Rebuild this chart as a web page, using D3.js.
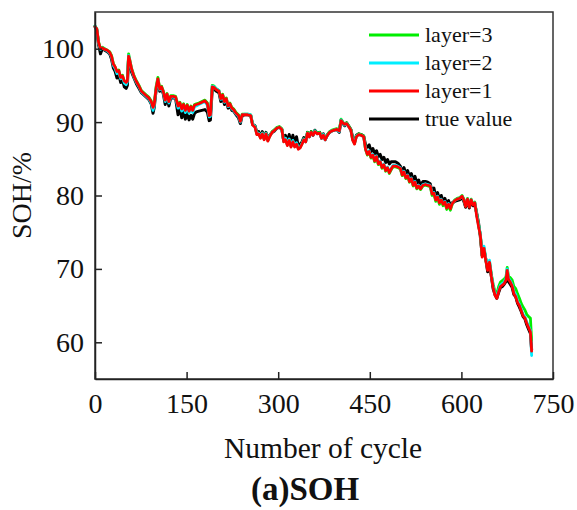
<!DOCTYPE html>
<html>
<head>
<meta charset="utf-8">
<script src="https://cdn.jsdelivr.net/npm/d3@7/dist/d3.min.js"></script>
<style>
  html, body { margin: 0; padding: 0; background: #fff; }
  svg { display: block; }
  text { font-family: "Liberation Serif", "DejaVu Serif", serif; fill: #111; }
</style>
</head>
<body>
<svg id="chart" width="577" height="510"></svg>
<script>
// ---------------- DATA ----------------
const cycles = [
  0,3,6,9,12,16,20,24,27,30,
  33,36,39,42,45,48,51,53,55,57,
  60,64,68,72,76,80,84,88,92,95,
  97,100,103,106,109,112,115,118,121,124,
  128,132,136,139,142,145,148,151,154,157,
  160,163,166,170,175,180,184,187,189,192,
  195,199,203,206,209,212,215,218,221,224,
  227,231,235,238,241,245,250,255,258,262,
  265,268,271,274,277,280,283,286,290,294,
  298,302,306,309,312,315,318,321,324,327,
  330,333,336,339,342,345,348,351,354,357,
  360,364,368,371,374,377,380,384,388,392,
  396,400,403,406,409,412,416,419,422,425,
  428,432,436,440,443,446,449,452,455,458,
  461,464,467,470,473,476,479,482,485,488,
  492,496,500,503,506,509,512,515,518,521,
  524,527,530,533,537,541,545,549,552,555,
  558,561,564,567,570,573,576,579,582,585,
  589,593,597,601,604,607,610,613,616,619,
  622,625,628,631,634,637,640,643,646,649,
  652,655,658,661,664,667,670,673,675,677,
  680,683,686,689,692,695,698,701,704,707,
  710,713,715
];

const trueValue = [
  103.0,102.5,100.5,99.3,100.0,99.8,99.6,99.3,98.6,97.4,
  96.9,96.0,96.5,95.4,95.8,94.8,94.6,95.0,98.8,98.0,
  96.8,96.0,95.2,94.6,94.0,93.7,93.4,93.1,92.5,91.2,
  92.0,94.3,95.5,94.2,94.6,93.8,92.4,93.6,92.2,93.3,
  93.3,93.2,91.0,92.0,90.6,91.4,90.4,91.2,90.3,90.9,
  90.4,91.2,91.4,91.5,91.6,91.7,91.4,90.2,90.3,94.5,
  94.5,94.2,94.0,92.8,93.5,92.4,92.9,91.9,92.3,91.6,
  91.5,91.0,90.6,89.8,90.9,91.0,91.0,90.9,89.7,89.5,
  88.6,88.7,88.0,88.7,87.8,88.6,87.6,88.2,88.6,88.8,
  89.2,89.3,89.0,87.5,88.2,87.2,88.3,87.0,88.2,87.2,
  88.0,86.6,87.0,87.3,87.9,87.4,88.6,88.0,88.7,88.2,
  88.9,88.5,88.6,87.8,88.4,87.6,88.2,88.6,88.8,88.9,
  89.0,88.6,90.3,89.8,89.5,89.9,89.4,89.0,87.9,87.3,
  88.2,88.4,88.3,88.1,86.9,86.6,86.9,86.0,86.4,85.7,
  86.1,85.3,85.6,84.9,85.2,84.5,84.9,84.3,84.6,84.6,
  84.6,84.4,84.0,83.2,83.8,82.9,83.4,82.5,83.0,82.1,
  82.6,81.7,82.1,81.4,81.9,81.9,81.8,81.6,80.5,81.0,
  79.8,80.4,79.4,80.0,79.2,79.6,78.8,79.3,78.6,79.0,
  79.2,79.3,79.4,79.7,79.2,78.4,79.4,78.3,79.3,78.6,
  78.8,77.6,76.3,74.4,71.8,72.6,71.3,69.6,70.6,69.0,
  67.3,66.5,66.0,66.8,67.5,67.6,67.9,68.3,69.5,68.3,
  67.9,67.5,66.5,66.2,65.3,64.8,64.2,63.5,63.2,62.4,
  61.8,61.2,59.0
];

const layer1 = [
  103.0,102.7,100.8,100.0,100.1,99.9,99.8,99.5,99.0,97.9,
  97.5,96.9,97.0,96.1,96.3,95.6,95.4,95.6,99.0,98.4,
  97.2,96.2,95.5,94.9,94.2,93.9,93.6,93.3,92.8,92.0,
  92.4,94.6,95.9,94.5,94.8,94.1,93.0,93.8,92.8,93.5,
  93.5,93.4,92.2,92.6,91.8,92.4,91.6,92.3,91.5,92.1,
  91.6,92.3,92.4,92.5,92.7,92.9,92.5,90.9,91.0,94.8,
  94.7,94.4,94.2,93.2,93.7,92.8,93.2,92.2,92.5,91.9,
  91.7,91.2,90.9,90.1,91.0,91.0,91.0,90.9,89.6,89.3,
  88.3,88.4,87.8,88.4,87.6,88.4,87.4,88.0,88.6,88.9,
  89.2,89.3,89.0,87.3,87.6,86.8,87.5,86.6,87.3,86.6,
  87.0,86.3,86.5,87.0,87.6,87.3,88.5,88.0,88.6,88.2,
  88.7,88.4,88.5,87.8,88.2,87.6,88.1,88.6,88.8,88.9,
  89.0,88.8,90.2,89.9,89.7,89.8,89.3,88.9,87.5,87.0,
  88.0,88.3,88.2,88.0,86.3,85.6,86.0,85.2,85.5,84.7,
  85.3,84.3,84.6,83.8,84.2,83.4,83.8,83.1,83.6,84.0,
  84.0,83.9,83.7,82.8,83.2,82.4,82.7,81.9,82.3,81.4,
  81.8,81.0,81.3,80.9,81.4,81.5,81.4,81.3,80.2,80.3,
  79.4,79.8,79.0,79.4,78.8,79.1,78.3,78.8,78.2,78.9,
  79.3,79.5,79.6,79.9,79.4,78.5,79.5,78.4,79.4,78.7,
  79.0,77.2,75.8,74.6,71.6,72.8,71.1,69.8,70.9,69.0,
  67.5,66.4,66.0,66.9,67.6,67.8,68.0,68.5,69.8,68.6,
  68.2,67.7,66.6,66.2,65.4,65.0,64.3,63.6,63.3,62.6,
  62.0,61.4,58.8
];

const layer2 = [
  103.1,102.6,100.7,99.9,100.1,99.9,99.7,99.4,98.9,97.7,
  97.3,96.6,96.9,95.9,96.2,95.3,95.1,95.5,99.1,98.3,
  97.1,96.1,95.4,94.8,94.1,93.8,93.5,93.2,92.6,91.6,
  92.2,94.5,95.8,94.4,94.7,94.0,92.8,93.7,92.6,93.4,
  93.4,93.3,91.9,92.4,91.5,92.2,91.3,92.1,91.2,91.9,
  91.3,92.1,92.2,92.4,92.6,92.8,92.3,90.7,90.8,94.9,
  94.8,94.5,94.3,93.1,93.6,92.7,93.1,92.1,92.4,91.8,
  91.6,91.1,90.8,90.0,91.0,91.1,91.1,91.0,89.7,89.4,
  88.4,88.5,87.9,88.5,87.7,88.5,87.5,88.1,88.6,88.9,
  89.2,89.3,89.0,87.4,87.8,86.9,87.7,86.7,87.5,86.8,
  87.2,86.4,86.6,87.1,87.7,87.3,88.5,88.0,88.6,88.2,
  88.8,88.4,88.5,87.8,88.3,87.6,88.1,88.6,88.8,88.9,
  89.0,88.7,90.3,89.9,89.6,89.8,89.3,88.9,87.6,87.1,
  88.1,88.3,88.2,88.0,86.4,85.7,86.1,85.3,85.6,84.8,
  85.4,84.4,84.7,83.9,84.3,83.5,83.9,83.2,83.7,84.1,
  84.1,84.0,83.8,82.9,83.3,82.5,82.8,82.0,82.4,81.5,
  81.9,81.1,81.4,81.0,81.5,81.6,81.5,81.4,80.3,80.4,
  79.5,79.9,79.1,79.5,78.9,79.2,78.4,78.9,78.3,78.9,
  79.3,79.5,79.6,79.9,79.4,78.6,79.5,78.5,79.4,78.8,
  79.0,77.4,76.0,74.8,71.9,73.1,71.4,70.0,71.2,69.2,
  67.7,66.6,66.2,67.1,67.8,68.0,68.2,68.7,70.0,68.8,
  68.4,67.9,66.9,66.5,65.6,65.2,64.5,63.8,63.5,62.8,
  62.2,61.6,58.2
];

const layer3 = [
  103.1,102.7,100.9,100.0,100.2,100.0,99.8,99.6,99.1,98.0,
  97.5,96.8,97.1,96.0,96.4,95.5,95.3,95.7,99.3,98.5,
  97.3,96.3,95.6,95.0,94.3,94.0,93.7,93.4,92.9,91.9,
  92.5,94.8,96.1,94.6,94.9,94.2,93.1,93.9,92.9,93.6,
  93.6,93.5,92.3,92.7,91.9,92.5,91.7,92.4,91.6,92.2,
  91.7,92.4,92.5,92.6,92.8,93.0,92.6,91.0,91.1,95.0,
  94.9,94.5,94.3,93.3,93.8,92.9,93.3,92.3,92.6,92.0,
  91.8,91.3,91.0,90.2,91.1,91.1,91.1,91.0,89.7,89.4,
  88.4,88.5,87.9,88.5,87.7,88.5,87.5,88.1,88.7,89.0,
  89.3,89.4,89.1,87.4,87.7,86.9,87.6,86.7,87.4,86.7,
  87.1,86.4,86.6,87.1,87.7,87.4,88.6,88.1,88.7,88.3,
  88.8,88.5,88.6,87.9,88.3,87.7,88.2,88.7,88.9,89.0,
  89.1,88.9,90.4,90.0,89.7,89.9,89.4,89.0,87.6,87.1,
  88.1,88.4,88.3,88.1,86.3,85.5,85.9,85.1,85.4,84.6,
  85.2,84.2,84.5,83.7,84.1,83.3,83.7,83.0,83.5,83.9,
  83.9,83.8,83.6,82.7,83.1,82.3,82.6,81.8,82.2,81.3,
  81.7,80.9,81.2,80.8,81.3,81.4,81.3,81.2,80.0,80.2,
  79.2,79.7,78.8,79.3,78.6,79.0,78.1,78.6,78.0,78.8,
  79.4,79.6,79.7,80.0,79.5,78.6,79.6,78.5,79.5,78.8,
  79.1,77.5,76.1,74.7,71.8,72.9,71.3,70.0,71.0,69.3,
  67.9,66.9,66.6,67.6,68.2,68.4,68.6,68.9,70.2,69.0,
  68.8,68.5,67.6,67.3,66.6,66.0,65.3,64.8,64.4,63.8,
  63.5,63.3,60.3
];

const xTicks = [0, 150, 300, 450, 600, 750];
const yTicks = [60, 70, 80, 90, 100];
const seriesNames = ["layer=3", "layer=2", "layer=1", "true value"];
const seriesColors = ["#00ee00", "#00eeff", "#ff0000", "#000000"];

// ---------------- CHART ----------------
const svg = d3.select("#chart");
const mLeft = 95, mRight = 553, mTop = 12, mBottom = 379;

const x = d3.scaleLinear().domain([0, 750]).range([mLeft, mRight]);
const y = d3.scaleLinear().domain([55, 105]).range([mBottom, mTop]);

const line = d3.line()
  .defined(d => d[1] != null && !isNaN(d[1]))
  .x(d => x(d[0])).y(d => y(d[1]))
  .curve(d3.curveLinear);

const seriesData = {
  "true value": trueValue,
  "layer=3": layer3,
  "layer=2": layer2,
  "layer=1": layer1
};
const drawOrder = ["true value", "layer=3", "layer=2", "layer=1"];
const colorOf = {};
seriesNames.forEach((n, i) => colorOf[n] = seriesColors[i]);

const plot = svg.append("g");
drawOrder.forEach(name => {
  const vals = seriesData[name];
  const pts = cycles.map((c, i) => [c, vals[i]]);
  plot.append("path")
    .datum(pts)
    .attr("fill", "none")
    .attr("stroke", colorOf[name])
    .attr("stroke-width", name === "true value" ? 3 : 2.8)
    .attr("stroke-linejoin", "round")
    .attr("stroke-linecap", "round")
    .attr("d", line);
});

// frame
svg.append("rect")
  .attr("x", mLeft).attr("y", mTop)
  .attr("width", mRight - mLeft).attr("height", mBottom - mTop)
  .attr("fill", "none").attr("stroke", "#333").attr("stroke-width", 1.5);

// axes (ticks inward)
const xAxis = d3.axisBottom(x).tickValues(xTicks).tickSizeInner(-7).tickSizeOuter(0).tickPadding(14);
const gx = svg.append("g").attr("transform", `translate(0,${mBottom})`).call(xAxis);
gx.select(".domain").attr("stroke", "#222").attr("stroke-width", 1.5);
gx.selectAll(".tick line").attr("stroke", "#222").attr("stroke-width", 1.5);
gx.selectAll(".tick text").attr("font-size", 28).attr("fill", "#111");

const yAxis = d3.axisLeft(y).tickValues(yTicks).tickSizeInner(-7).tickSizeOuter(0).tickPadding(11);
const gy = svg.append("g").attr("transform", `translate(${mLeft},0)`).call(yAxis);
gy.select(".domain").attr("stroke", "#222").attr("stroke-width", 1.5);
gy.selectAll(".tick line").attr("stroke", "#222").attr("stroke-width", 1.5);
gy.selectAll(".tick text").attr("font-size", 28).attr("fill", "#111");
gx.attr("font-family", null); gy.attr("font-family", null);

// axis titles
svg.append("text")
  .attr("x", 323).attr("y", 458)
  .attr("text-anchor", "middle").attr("font-size", 29.5)
  .text("Number of cycle");

svg.append("text")
  .attr("transform", `translate(31,${(mTop + mBottom) / 2}) rotate(-90)`)
  .attr("text-anchor", "middle").attr("font-size", 28)
  .text("SOH/%");

svg.append("text")
  .attr("x", 305).attr("y", 500)
  .attr("text-anchor", "middle").attr("font-size", 33).attr("font-weight", "bold")
  .text("(a)SOH");

// legend
const legend = svg.append("g");
seriesNames.forEach((name, i) => {
  const yy = 35 + i * 28;
  legend.append("line")
    .attr("x1", 369).attr("x2", 419).attr("y1", yy).attr("y2", yy)
    .attr("stroke", colorOf[name]).attr("stroke-width", 3);
  legend.append("text")
    .attr("x", 425).attr("y", yy).attr("dy", "0.33em")
    .attr("font-size", 22)
    .text(name);
});
</script>
</body>
</html>
